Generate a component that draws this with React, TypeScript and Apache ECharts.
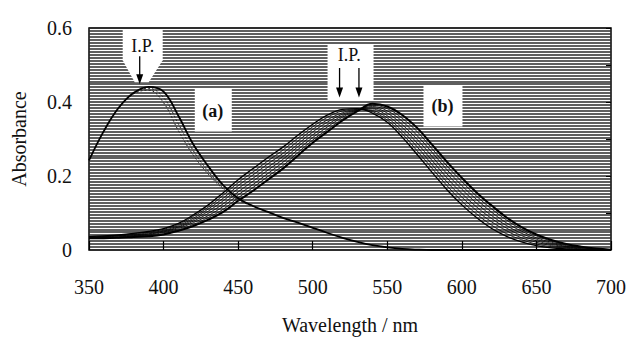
import React, { useEffect, useRef } from "react";
import * as echarts from "echarts";

// Wavelength (nm) sampling, 350..700 every 10 nm
const wavelengths = [350, 360, 370, 380, 390, 400, 410, 420, 430, 440, 450, 460, 470, 480, 490, 500, 510, 520, 530, 540, 550, 560, 570, 580, 590, 600, 610, 620, 630, 640, 650, 660, 670, 680, 690, 700];

const xTicks = [350, 400, 450, 500, 550, 600, 650, 700];
const yTicks = [0, 0.2, 0.4, 0.6];

// Spectrum family (a)
const a1 = [0.242, 0.322, 0.385, 0.425, 0.441, 0.428, 0.362, 0.285, 0.226, 0.175, 0.140, 0.119, 0.103, 0.087, 0.074, 0.060, 0.046, 0.033, 0.022, 0.013, 0.007, 0.003, 0.001, 0, 0, 0, 0, 0, 0, 0, 0, 0, 0, 0, 0, 0];
const a2 = [null, null, 0.385, 0.424, 0.437, 0.412, 0.340, 0.268, 0.212, 0.168, 0.137, 0.119, null, null, null, null, null, null, null, null, null, null, null, null, null, null, null, null, null, null, null, null, null, null, null, null];
const a3 = [null, null, 0.384, 0.422, 0.432, 0.398, 0.322, 0.256, 0.205, 0.165, 0.135, 0.118, null, null, null, null, null, null, null, null, null, null, null, null, null, null, null, null, null, null, null, null, null, null, null, null];

// Spectrum family (b)
const b1 = [0.036, 0.038, 0.041, 0.045, 0.050, 0.058, 0.072, 0.095, 0.122, 0.155, 0.190, 0.220, 0.250, 0.278, 0.310, 0.340, 0.365, 0.380, 0.382, 0.370, 0.345, 0.305, 0.258, 0.210, 0.163, 0.122, 0.087, 0.058, 0.037, 0.022, 0.012, 0.006, 0.003, 0.001, 0, 0];
const b2 = [0.035, 0.037, 0.040, 0.044, 0.048, 0.056, 0.069, 0.091, 0.116, 0.148, 0.182, 0.211, 0.241, 0.270, 0.302, 0.333, 0.359, 0.376, 0.381, 0.374, 0.351, 0.314, 0.268, 0.221, 0.174, 0.132, 0.097, 0.067, 0.044, 0.028, 0.016, 0.009, 0.005, 0.002, 0.001, 0];
const b3 = [0.035, 0.036, 0.039, 0.042, 0.046, 0.053, 0.066, 0.086, 0.111, 0.140, 0.174, 0.203, 0.233, 0.261, 0.294, 0.326, 0.352, 0.371, 0.380, 0.377, 0.357, 0.322, 0.279, 0.231, 0.184, 0.143, 0.106, 0.076, 0.052, 0.033, 0.021, 0.012, 0.007, 0.003, 0.001, 0];
const b4 = [0.034, 0.035, 0.038, 0.041, 0.044, 0.051, 0.063, 0.082, 0.105, 0.133, 0.166, 0.194, 0.224, 0.253, 0.286, 0.319, 0.346, 0.367, 0.379, 0.381, 0.363, 0.331, 0.289, 0.242, 0.195, 0.153, 0.116, 0.085, 0.059, 0.039, 0.025, 0.015, 0.009, 0.004, 0.002, 0];
const b5 = [0.034, 0.035, 0.036, 0.039, 0.043, 0.049, 0.061, 0.078, 0.099, 0.125, 0.157, 0.186, 0.216, 0.245, 0.279, 0.311, 0.339, 0.363, 0.378, 0.384, 0.370, 0.339, 0.299, 0.253, 0.206, 0.164, 0.126, 0.093, 0.066, 0.045, 0.029, 0.018, 0.010, 0.006, 0.002, 0.001];
const b6 = [0.033, 0.034, 0.035, 0.038, 0.041, 0.047, 0.058, 0.074, 0.093, 0.118, 0.149, 0.177, 0.207, 0.237, 0.271, 0.304, 0.333, 0.359, 0.377, 0.388, 0.376, 0.348, 0.309, 0.264, 0.217, 0.174, 0.136, 0.102, 0.073, 0.051, 0.033, 0.021, 0.012, 0.007, 0.003, 0.001];
const b7 = [0.033, 0.033, 0.034, 0.036, 0.039, 0.044, 0.055, 0.069, 0.088, 0.110, 0.141, 0.169, 0.199, 0.228, 0.263, 0.297, 0.326, 0.354, 0.376, 0.391, 0.382, 0.356, 0.320, 0.274, 0.227, 0.185, 0.145, 0.111, 0.081, 0.056, 0.038, 0.024, 0.014, 0.008, 0.003, 0.001];
const b8 = [0.032, 0.032, 0.033, 0.035, 0.037, 0.042, 0.052, 0.065, 0.082, 0.103, 0.133, 0.160, 0.190, 0.220, 0.255, 0.290, 0.320, 0.350, 0.375, 0.395, 0.388, 0.365, 0.330, 0.285, 0.238, 0.195, 0.155, 0.120, 0.088, 0.062, 0.042, 0.027, 0.016, 0.009, 0.004, 0.001];

// Annotation anchors (data coordinates)
const ipA = [384, 0.448];
const ipB1 = [518, 0.412];
const ipB2 = [531, 0.412];
const labelA = [433, 0.377];
const labelB = [587, 0.388];

const SERIF = "Liberation Serif";

const pair = (ys: (number | null)[]) => wavelengths.map((x, i) => [x, ys[i]]);

export default function App() {
  const ref = useRef<HTMLDivElement>(null);
  useEffect(() => {
    if (!ref.current) return;
    const chart = echarts.init(ref.current, undefined, { renderer: "svg" });

    const bSets = [b1, b2, b3, b4, b5, b6, b7, b8];
    const series: any[] = [];
    bSets.forEach((arr, i) => {
      const last = i === bSets.length - 1;
      series.push({
        type: "line",
        data: pair(arr),
        smooth: 0.4,
        symbol: "none",
        lineStyle: { color: "#000", width: last ? 2 : i === 0 ? 1.3 : 0.8 },
        z: 3,
      });
    });
    series.push({
      type: "line", data: pair(a2), smooth: 0.4, symbol: "none", connectNulls: false,
      lineStyle: { color: "#222", width: 1, type: [2, 2] }, z: 3,
    });
    series.push({
      type: "line", data: pair(a3), smooth: 0.4, symbol: "none", connectNulls: false,
      lineStyle: { color: "#222", width: 1, type: [2, 2] }, z: 3,
    });
    series.push({
      type: "line", data: pair(a1), smooth: 0.4, symbol: "none",
      lineStyle: { color: "#000", width: 1.8 }, z: 4,
    });

    const textBase = { fontFamily: SERIF, color: "#111" };

    chart.setOption({
      animation: false,
      backgroundColor: "#fff",
      grid: { left: 89, right: 16, top: 28, bottom: 86, show: true, borderColor: "#000", borderWidth: 1.5, backgroundColor: "#fff" },
      xAxis: {
        type: "value",
        min: xTicks[0],
        max: xTicks[xTicks.length - 1],
        interval: 50,
        axisLine: { show: false },
        axisTick: { show: true, inside: true, length: 9, lineStyle: { color: "#000", width: 1.2 } },
        splitLine: { show: false },
        axisLabel: { ...textBase, fontSize: 20, margin: 27 },
        name: "Wavelength / nm",
        nameLocation: "middle",
        nameGap: 65,
        nameTextStyle: { ...textBase, fontSize: 20 },
      },
      yAxis: [
        {
          type: "value",
          min: yTicks[0],
          max: yTicks[yTicks.length - 1],
          interval: 0.2,
          position: "left",
          axisLine: { show: false },
          axisTick: { show: false },
          splitLine: { show: false },
          axisLabel: {
            ...textBase, fontSize: 20, margin: 17, padding: [0, 0, 6, 0],
            formatter: (v: number) => (v === 0 ? "0" : v.toFixed(1)),
          },
          name: "Absorbance",
          nameLocation: "middle",
          nameGap: 60,
          nameRotate: 90,
          nameTextStyle: { ...textBase, fontSize: 20 },
        },
        {
          type: "value", min: 0, max: 0.6, interval: 0.1, position: "right",
          axisLine: { show: false }, axisLabel: { show: false }, splitLine: { show: false },
          axisTick: { show: true, inside: true, length: 5, lineStyle: { color: "#000" } },
        },
        {
          type: "value", min: 0, max: 0.6, interval: 0.008, position: "left",
          axisLine: { show: false }, axisLabel: { show: false }, axisTick: { show: false },
          splitLine: { show: true, lineStyle: { color: "#2a2a2a", width: 1.5 } },
          z: 0,
        },
      ],
      series,
    });

    const p = (d: number[]) => chart.convertToPixel({ gridIndex: 0 }, d) as number[];
    const [tx, ty] = p(ipA);
    const [b1x, b1y] = p(ipB1);
    const [b2x] = p(ipB2);
    const [lax, lay] = p(labelA);
    const [lbx, lby] = p(labelB);
    const top = 29;

    const arrow = (x: number, yTop: number, yTip: number) => [
      { type: "line", z: 20, shape: { x1: x, y1: yTop, x2: x, y2: yTip - 8 }, style: { stroke: "#000", lineWidth: 1.3 } },
      { type: "polygon", z: 20, shape: { points: [[x - 3.5, yTip - 10], [x + 3.5, yTip - 10], [x, yTip]] }, style: { fill: "#000" } },
    ];
    const tStyle = (text: string, bold = false) => ({
      text, fontFamily: SERIF, fontSize: 18, fontWeight: bold ? "bold" : "normal", fill: "#111", align: "center", verticalAlign: "middle",
    });

    chart.setOption({
      graphic: [
        {
          type: "polygon", z: 1,
          shape: { points: [[tx - 17, top], [tx + 23, top], [tx + 23, ty - 24], [tx + 9, ty - 2], [tx - 5, ty - 2], [tx - 17, ty - 24]] },
          style: { fill: "#fff" },
        },
        { type: "text", z: 20, x: tx + 3, y: ty - 38, style: tStyle("I.P.") },
        ...arrow(tx, ty - 28, ty),
        { type: "rect", z: 1, shape: { x: b1x - 12, y: 45, width: 46, height: b1y - 45 + 3 }, style: { fill: "#fff" } },
        { type: "text", z: 20, x: (b1x + b2x) / 2, y: 55, style: tStyle("I.P.") },
        ...arrow(b1x, 68, b1y),
        ...arrow(b2x, 68, b1y),
        { type: "rect", z: 1, shape: { x: lax - 18, y: lay - 22, width: 37, height: 43 }, style: { fill: "#fff" } },
        { type: "text", z: 20, x: lax, y: lay, style: tStyle("(a)", true) },
        { type: "rect", z: 1, shape: { x: lbx - 19, y: lby - 21, width: 39, height: 41 }, style: { fill: "#fff" } },
        { type: "text", z: 20, x: lbx, y: lby, style: tStyle("(b)", true) },
      ],
    });

    return () => chart.dispose();
  }, []);

  return <div ref={ref} style={{ position: "fixed", left: 0, top: 0, width: 629, height: 340 }} />;
}
